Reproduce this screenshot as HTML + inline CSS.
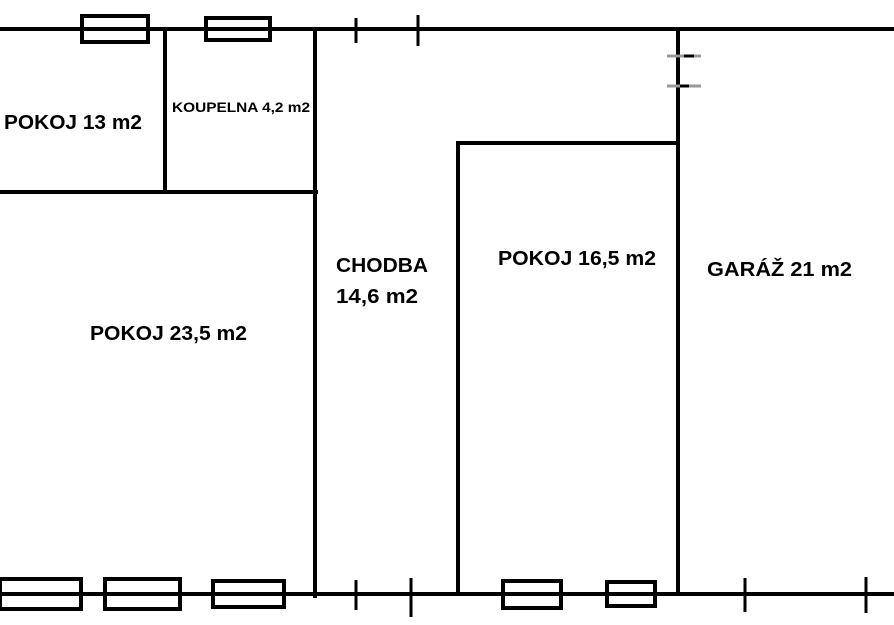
<!DOCTYPE html>
<html><head><meta charset="utf-8"><style>html,body{margin:0;padding:0;background:#fff}svg{display:block}</style></head>
<body>
<svg width="894" height="625" viewBox="0 0 894 625" xmlns="http://www.w3.org/2000/svg">
<g stroke="#000" stroke-width="4" fill="none">
<line x1="0" y1="29" x2="894" y2="29"/>
<line x1="0" y1="594" x2="894" y2="594"/>
<line x1="165" y1="29" x2="165" y2="192"/>
<line x1="0" y1="192" x2="318" y2="192"/>
<line x1="315" y1="29" x2="315" y2="598"/>
<line x1="458" y1="141" x2="458" y2="596"/>
<line x1="456" y1="143" x2="680" y2="143"/>
<line x1="678" y1="29" x2="678" y2="596"/>
<rect x="82" y="16" width="66" height="26"/>
<rect x="206" y="18" width="64" height="22"/>
<line x1="356" y1="18" x2="356" y2="43" stroke-width="3"/>
<line x1="418" y1="15" x2="418" y2="46" stroke-width="3"/>
<rect x="0" y="579" width="81" height="30"/>
<rect x="105" y="579" width="75" height="30"/>
<rect x="213" y="581" width="71" height="26"/>
<rect x="503" y="581" width="58" height="27"/>
<rect x="607" y="582" width="48" height="24"/>
<line x1="356" y1="580" x2="356" y2="610" stroke-width="3"/>
<line x1="411" y1="578" x2="411" y2="617" stroke-width="3"/>
<line x1="745" y1="578" x2="745" y2="612" stroke-width="3"/>
<line x1="866" y1="577" x2="866" y2="613" stroke-width="3"/>
</g>
<g stroke="#999" stroke-width="3">
<line x1="667" y1="56" x2="701" y2="56"/>
<line x1="667" y1="86" x2="701" y2="86"/>
</g>
<g stroke="#000" stroke-width="3">
<line x1="684" y1="56" x2="694" y2="56"/>
<line x1="680" y1="86" x2="689" y2="86"/>
</g>
<g font-family="Liberation Sans, sans-serif" font-weight="bold" fill="#000">
<text x="4" y="129" font-size="20" textLength="138" lengthAdjust="spacingAndGlyphs">POKOJ 13 m2</text>
<text x="172" y="112" font-size="14" textLength="138" lengthAdjust="spacingAndGlyphs">KOUPELNA 4,2 m2</text>
<text x="336" y="272" font-size="20" textLength="92" lengthAdjust="spacingAndGlyphs">CHODBA</text>
<text x="336" y="303" font-size="20" textLength="82" lengthAdjust="spacingAndGlyphs">14,6 m2</text>
<text x="498" y="265" font-size="20" textLength="158" lengthAdjust="spacingAndGlyphs">POKOJ 16,5 m2</text>
<text x="707" y="276" font-size="20" textLength="145" lengthAdjust="spacingAndGlyphs">GARÁŽ 21 m2</text>
<text x="90" y="340" font-size="20" textLength="157" lengthAdjust="spacingAndGlyphs">POKOJ 23,5 m2</text>
</g>
</svg>
</body></html>
